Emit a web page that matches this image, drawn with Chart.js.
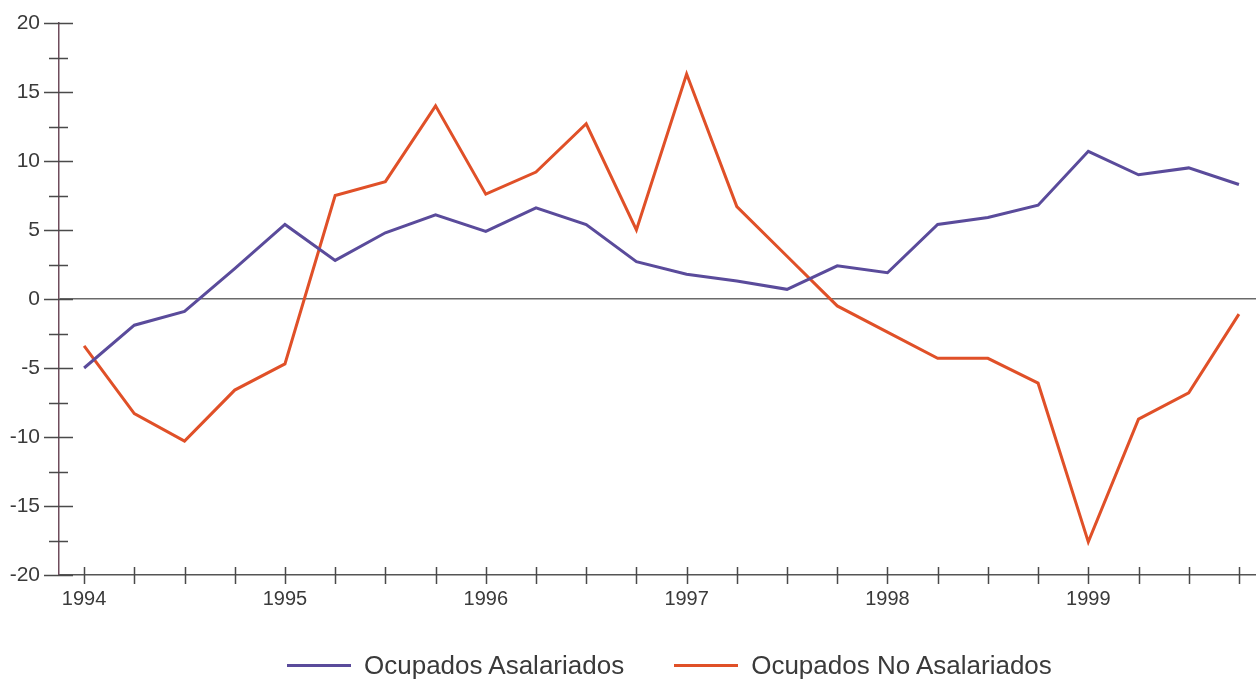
<!DOCTYPE html>
<html>
<head>
<meta charset="utf-8">
<script src="https://cdn.jsdelivr.net/npm/chart.js@4/dist/chart.umd.min.js"></script>
<style>
  html, body { margin: 0; padding: 0; background: #fff; }
  #wrap { position: relative; width: 1256px; height: 680px; }
  #legend {
    position: absolute; left: 287px; top: 650px; height: 30px;
    display: flex; align-items: center;
    font-family: "Liberation Sans", Arial, sans-serif; font-size: 26px; color: #3a3a3a;
  }
  .item { display: flex; align-items: center; margin-right: 50px; }
  .swatch { width: 64px; height: 3px; margin-right: 13px; }
</style>
</head>
<body>
<div id="wrap">
  <canvas id="c" width="1256" height="680"></canvas>
  <div id="legend"></div>
</div>
<script>
// Quarterly employment growth (%), 1994–1999
const years = ['1994', '1995', '1996', '1997', '1998', '1999'];
const quarters = years.flatMap(y => ['I', 'II', 'III', 'IV'].map(q => y + ' ' + q));

const asalariados = [-5.0, -1.9, -0.9, 2.2, 5.4, 2.8, 4.8, 6.1, 4.9, 6.6, 5.4, 2.7,
                     1.8, 1.3, 0.7, 2.4, 1.9, 5.4, 5.9, 6.8, 10.7, 9.0, 9.5, 8.3];
const noAsalariados = [-3.4, -8.3, -10.3, -6.6, -4.7, 7.5, 8.5, 14.0, 7.6, 9.2, 12.7, 5.0,
                       16.3, 6.7, 3.1, -0.5, -2.4, -4.3, -4.3, -6.1, -17.6, -8.7, -6.8, -1.1];

const seriesNames = ['Ocupados Asalariados', 'Ocupados No Asalariados'];
const seriesColors = ['#5a4b9b', '#e05028'];

const toPoints = arr => arr.map((v, i) => ({ x: i, y: v }));

// Tick marks that cross both axes (major every 5, minor every 2.5 on the value axis)
const crossTicks = {
  id: 'crossTicks',
  afterDraw(chart) {
    const ctx = chart.ctx;
    const xs = chart.scales.x, ys = chart.scales.y;
    const axisY = chart.chartArea.bottom;
    const axisX = chart.chartArea.left;
    ctx.save();
    ctx.strokeStyle = '#4a4a4a';
    ctx.lineWidth = 1.5;
    ctx.beginPath();
    xs.ticks.forEach(t => {
      const px = Math.round(xs.getPixelForValue(t.value)) + 0.5;
      ctx.moveTo(px, axisY - 8);
      ctx.lineTo(px, axisY + 9);
    });
    ys.ticks.forEach(t => {
      const py = Math.round(ys.getPixelForValue(t.value)) + 0.5;
      const major = t.value % 5 === 0;
      ctx.moveTo(axisX - (major ? 15 : 10), py);
      ctx.lineTo(axisX + (major ? 14 : 9), py);
    });
    ctx.stroke();
    ctx.restore();
  }
};

const chart = new Chart(document.getElementById('c'), {
  type: 'line',
  data: {
    datasets: [
      { label: seriesNames[0], data: toPoints(asalariados), borderColor: seriesColors[0] },
      { label: seriesNames[1], data: toPoints(noAsalariados), borderColor: seriesColors[1] }
    ]
  },
  options: {
    responsive: false,
    animation: false,
    layout: { padding: { top: 23, right: 0, bottom: 65, left: 0 } },
    elements: {
      line: { borderWidth: 3, tension: 0, borderJoinStyle: 'miter', fill: false },
      point: { radius: 0, hoverRadius: 0 }
    },
    plugins: { legend: { display: false }, tooltip: { enabled: false } },
    scales: {
      x: {
        type: 'linear',
        min: -0.5,
        max: 23.34,
        afterBuildTicks: s => { s.ticks = quarters.map((q, i) => ({ value: i })); },
        afterFit: s => { s.height = 40; },
        grid: { display: false, drawTicks: false },
        border: { display: true, color: '#555', width: 1.5 },
        ticks: {
          autoSkip: false,
          maxRotation: 0,
          padding: 12,
          color: '#3a3a3a',
          font: { family: '"Liberation Sans", Arial, sans-serif', size: 20 },
          callback: v => (v % 4 === 0 ? years[v / 4] : '')
        }
      },
      y: {
        min: -20,
        max: 20,
        afterFit: s => { s.width = 59; s.paddingTop = 0; s.paddingBottom = 0; },
        grid: {
          drawTicks: false,
          color: c => (c.tick && c.tick.value === 0 ? '#6a6a6a' : 'rgba(0,0,0,0)'),
          lineWidth: 1.5
        },
        border: { display: true, color: '#6e4c5c', width: 1.5 },
        ticks: {
          stepSize: 2.5,
          padding: 19,
          color: '#3a3a3a',
          font: { family: '"Liberation Sans", Arial, sans-serif', size: 21 },
          callback: v => (v % 5 === 0 ? String(v) : '')
        }
      }
    }
  },
  plugins: [crossTicks]
});

// Legend built from the chart's datasets
const legend = document.getElementById('legend');
chart.data.datasets.forEach(ds => {
  const item = document.createElement('div');
  item.className = 'item';
  const sw = document.createElement('span');
  sw.className = 'swatch';
  sw.style.background = ds.borderColor;
  const txt = document.createElement('span');
  txt.textContent = ds.label;
  item.appendChild(sw);
  item.appendChild(txt);
  legend.appendChild(item);
});
</script>
</body>
</html>
